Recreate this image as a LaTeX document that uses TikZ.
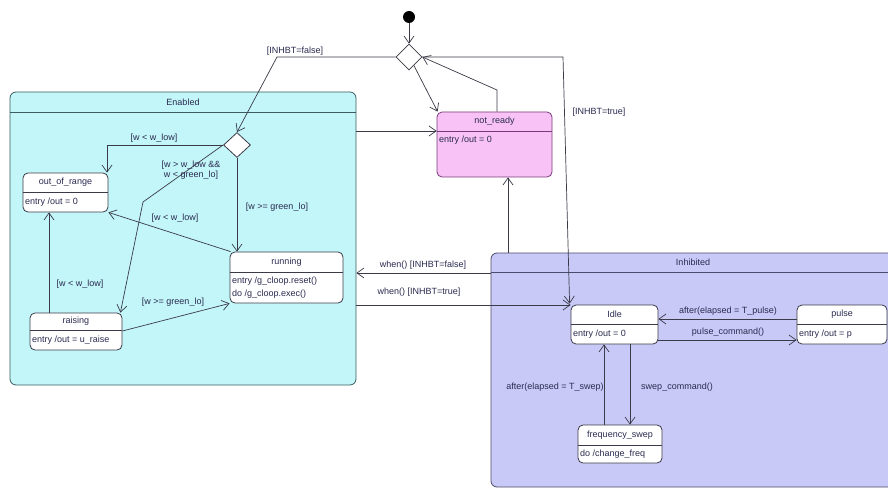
\documentclass[tikz,border=0pt]{standalone}
\usepackage{fontspec}
\setmainfont{Liberation Sans}
\usetikzlibrary{arrows.meta,shapes.geometric}
\definecolor{encyan}{HTML}{C2F6F8}
\definecolor{inlav}{HTML}{C9C9F8}
\definecolor{nrpink}{HTML}{F8C2F6}
\definecolor{lnc}{HTML}{3A3A48}
\definecolor{txc}{HTML}{2A2A50}
\definecolor{enb}{HTML}{3C5C60}
\definecolor{inb}{HTML}{4A4A6A}
\definecolor{nrb}{HTML}{7A3A7A}
\tikzset{
  tr/.style={draw=lnc, line width=0.7pt, -{Straight Barb[length=7pt,width=10pt]}},
  lbl/.style={font=\fontsize{9}{10.5}\selectfont, text=txc, inner sep=0pt},
  bodytxt/.style={lbl, anchor=west},
  statebox/.style={draw=lnc, line width=0.8pt, rounded corners=5pt, fill=white, inner sep=0pt},
  hdr/.style={draw=lnc, line width=0.7pt},
  decision/.style={diamond, draw=lnc, line width=0.8pt, fill=white, inner sep=0pt, minimum width=26pt, minimum height=26pt}
}
\begin{document}
\begin{tikzpicture}[x=1pt,y=-1pt]
\useasboundingbox (0,0) rectangle (888,489);
\fill[white] (0,0) rectangle (888,489);
% containers
\node[statebox, draw=enb, fill=encyan, rounded corners=6pt, minimum width=346pt, minimum height=293pt] (enabled) at (183,238.5) {};
\draw[hdr, draw=enb] (enabled.west |- 0,112) -- (enabled.east |- 0,112);
\node[lbl] (enabledt) at (183,102) {Enabled};
\node[statebox, draw=inb, fill=inlav, rounded corners=6pt, minimum width=404pt, minimum height=234pt] (inhib) at (693,370) {};
\draw[hdr, draw=inb] (inhib.west |- 0,272) -- (inhib.east |- 0,272);
\node[lbl] (inhibt) at (693,262) {Inhibited};
% states
\node[statebox, draw=nrb, fill=nrpink, minimum width=115pt, minimum height=65pt] (nr) at (494.5,144.5) {};
\draw[hdr, draw=nrb] (nr.west |- 0,131) -- (nr.east |- 0,131);
\node[lbl] (nrt) at (494.5,121.5) {not\_ready};
\node[bodytxt] (nrb) at (439,140) {entry /out = 0};

\node[statebox, minimum width=85pt, minimum height=39pt] (ofr) at (65.5,192.5) {};
\draw[hdr] (ofr.west |- 0,192) -- (ofr.east |- 0,192);
\node[lbl] (ofrt) at (65.5,182.5) {out\_of\_range};
\node[bodytxt] (ofrb) at (25,202) {entry /out = 0};

\node[statebox, minimum width=113pt, minimum height=51pt] (running) at (286.5,277.5) {};
\draw[hdr] (running.west |- 0,272) -- (running.east |- 0,272);
\node[lbl] (runningt) at (286.5,262) {running};
\node[bodytxt] (runningb1) at (232,281) {entry /g\_cloop.reset()};
\node[bodytxt] (runningb2) at (232,294) {do /g\_cloop.exec()};

\node[statebox, minimum width=92pt, minimum height=37pt] (raising) at (76,331.5) {};
\draw[hdr] (raising.west |- 0,330) -- (raising.east |- 0,330);
\node[lbl] (raisingt) at (76,321.5) {raising};
\node[bodytxt] (raisingb) at (32,340.5) {entry /out = u\_raise};

\node[statebox, minimum width=87pt, minimum height=39pt] (idle) at (614.5,324.5) {};
\draw[hdr] (idle.west |- 0,324) -- (idle.east |- 0,324);
\node[lbl] (idlet) at (614.5,314.5) {Idle};
\node[bodytxt] (idleb) at (573,334) {entry /out = 0};

\node[statebox, minimum width=90pt, minimum height=39pt] (pulse) at (842,324.5) {};
\draw[hdr] (pulse.west |- 0,324) -- (pulse.east |- 0,324);
\node[lbl] (pulset) at (842,314.5) {pulse};
\node[bodytxt] (pulseb) at (799,334) {entry /out = p};

\node[statebox, minimum width=84pt, minimum height=38pt] (freq) at (620,444) {};
\draw[hdr] (freq.west |- 0,445) -- (freq.east |- 0,445);
\node[lbl] (freqt) at (620,435) {frequency\_swep};
\node[bodytxt] (freqb) at (580,454) {do /change\_freq};

% pseudo states
\node[circle, fill=black, minimum size=12pt, inner sep=0pt] (init) at (409,17) {};
\node[decision] (d1) at (409,57) {};
\node[decision, minimum width=27pt, minimum height=25pt] (d2) at (237,145) {};

% transitions
\draw[tr] (init) -- (d1);
\draw[tr] (d1.west) -- (277,57) -- (d2.north);
\node[lbl] (l1) at (295,51) {[INHBT=false]};
\draw[tr] (d1.-60) -- ([xshift=1pt]nr.north west);
\draw[tr] (nr.north -| 497,0) -- (497,90) -- (d1.east);
\draw[tr] (d1.east) -- (563,57) -- ([xshift=-1pt,yshift=1pt]idle.north west);
\node[lbl] (l2) at (599,112) {[INHBT=true]};
\draw[tr] (enabled.east |- 0,131) -- (nr.west |- 0,131);
\draw[tr] (inhib.north -| 508,0) -- (nr.south -| 508,0);
\draw[tr] (inhib.west |- 0,273) -- (enabled.east |- 0,273);
\node[lbl] (l3) at (423,265) {when() [INHBT=false]};
\draw[tr] (enabled.east |- 0,305) -- (idle.west |- 0,305);
\node[lbl] (l4) at (419,292) {when() [INHBT=true]};

\draw[tr] (d2.west) -- (107,145) -- (ofr.north -| 107,0);
\node[lbl] (l5) at (154,138) {[w < w\_low]};
\draw[tr] (d2.west) -- (143,202) -- ([xshift=-2pt]raising.north east);
\node[lbl, align=center] (l6) at (191,170) {[w > w\_low \&\&\\w < green\_lo]};
\draw[tr] (d2.south) -- (running.north -| d2.south);
\node[lbl] (l7) at (277,207) {[w >= green\_lo]};
\draw[tr] ([xshift=1pt]running.north west) -- (ofr.south east);
\node[lbl] (l8) at (175,218) {[w < w\_low]};
\draw[tr] (raising.north -| 49,0) -- (ofr.south -| 49,0);
\node[lbl] (l9) at (80,284) {[w < w\_low]};
\draw[tr] (raising.east |- 0,331) -- (running.south west);
\node[lbl] (l10) at (173,302) {[w >= green\_lo]};

\draw[tr] (pulse.west |- 0,319) -- (idle.east |- 0,319);
\node[lbl] (l11) at (728,311) {after(elapsed = T\_pulse)};
\draw[tr] (idle.east |- 0,340) -- (pulse.west |- 0,340);
\node[lbl] (l12) at (728,332) {pulse\_command()};
\draw[tr] (idle.south -| 630,0) -- (freq.north -| 630,0);
\node[lbl] (l13) at (677,387) {swep\_command()};
\draw[tr] (freq.north -| 604,0) -- (idle.south -| 604,0);
\node[lbl] (l14) at (555,387) {after(elapsed = T\_swep)};
\end{tikzpicture}
\end{document}
